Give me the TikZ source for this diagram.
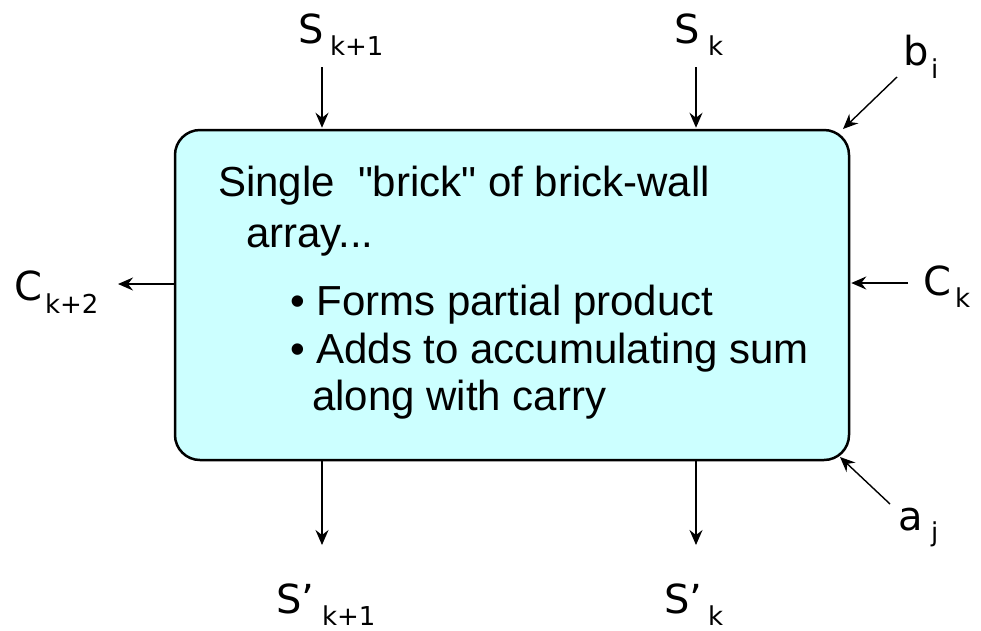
\documentclass[tikz,border=0pt]{standalone}
\usepackage{fontspec}
\setmainfont{Liberation Sans}[Ligatures=TeXOff]
\newfontfamily\labfont{DejaVu Sans}
\usetikzlibrary{arrows.meta}
\definecolor{boxfill}{HTML}{CCFFFF}
\newcommand\mylab[4]{\makebox[0pt][l]{#1}\hspace{#2}\raisebox{-#3}{\fontsize{26}{26}\selectfont #4}}
\begin{document}
\begin{tikzpicture}[x=1pt,y=-1pt,
  arr/.style={line width=1.4pt,-{Stealth[length=15pt,width=13pt,inset=5pt]}},
  lab/.style={anchor=base west,inner sep=0pt,outer sep=0pt,font=\labfont\fontsize{40}{40}\selectfont},
  body/.style={anchor=base west,inner sep=0pt,outer sep=0pt,font=\fontsize{42}{42}\selectfont},
  brick/.style={draw=black,line width=2.5pt,fill=boxfill,rounded corners=25pt,
    minimum width=674pt,minimum height=330pt,inner sep=0pt}
]
\useasboundingbox (0,0) rectangle (981,630);
\node[brick] (box) at (512,295) {};

% body text
\node[body] (t1) at (218,196) {Single\ \ "brick" of brick-wall};
\node[body] (t2) at (246,247) {array...};
\node[body] (t3) at (290,315) {• Forms partial product};
\node[body] (t4) at (290,363) {• Adds to accumulating sum};
\node[body] (t5) at (312,410) {along with carry};

% labels
\node[lab] (sk1) at (298,43) {\mylab{S}{32pt}{12pt}{k+1}};
\node[lab] (sk) at (674,43) {\mylab{S}{34pt}{12pt}{k}};
\node[lab] (bi) at (903,65) {\mylab{b}{28pt}{13pt}{i}};
\node[lab] (ck2) at (14,300) {\mylab{C}{31pt}{13pt}{k+2}};
\node[lab] (ck) at (923,295) {\mylab{C}{32pt}{12pt}{k}};
\node[lab] (aj) at (898,530) {\mylab{a}{33pt}{11pt}{j}};
\node[lab] (osk1) at (276,613) {\mylab{S’}{46pt}{12pt}{k+1}};
\node[lab] (osk) at (664,613) {\mylab{S’}{44pt}{12pt}{k}};

% connector end points
\coordinate (in1) at (322,67);
\coordinate (in2) at (696,67);
\coordinate (out1) at (322,545);
\coordinate (out2) at (696,545);
\coordinate (cout) at (118,284);
\coordinate (cin) at (908,283);
\coordinate (bstart) at (897,77);
\coordinate (bend) at (843,129);
\coordinate (astart) at (890,504);
\coordinate (aend) at (840,457);

\draw[arr,shorten >=1pt] (in1) -- (in1 |- box.north);
\draw[arr,shorten >=1pt] (in2) -- (in2 |- box.north);
\draw[arr] (out1 |- box.south) -- (out1);
\draw[arr] (out2 |- box.south) -- (out2);
\draw[arr] (cout -| box.west) -- (cout);
\draw[arr,shorten >=1pt] (cin) -- (cin -| box.east);
\draw[arr] (bstart) -- (bend);
\draw[arr] (astart) -- (aend);
\end{tikzpicture}
\end{document}
